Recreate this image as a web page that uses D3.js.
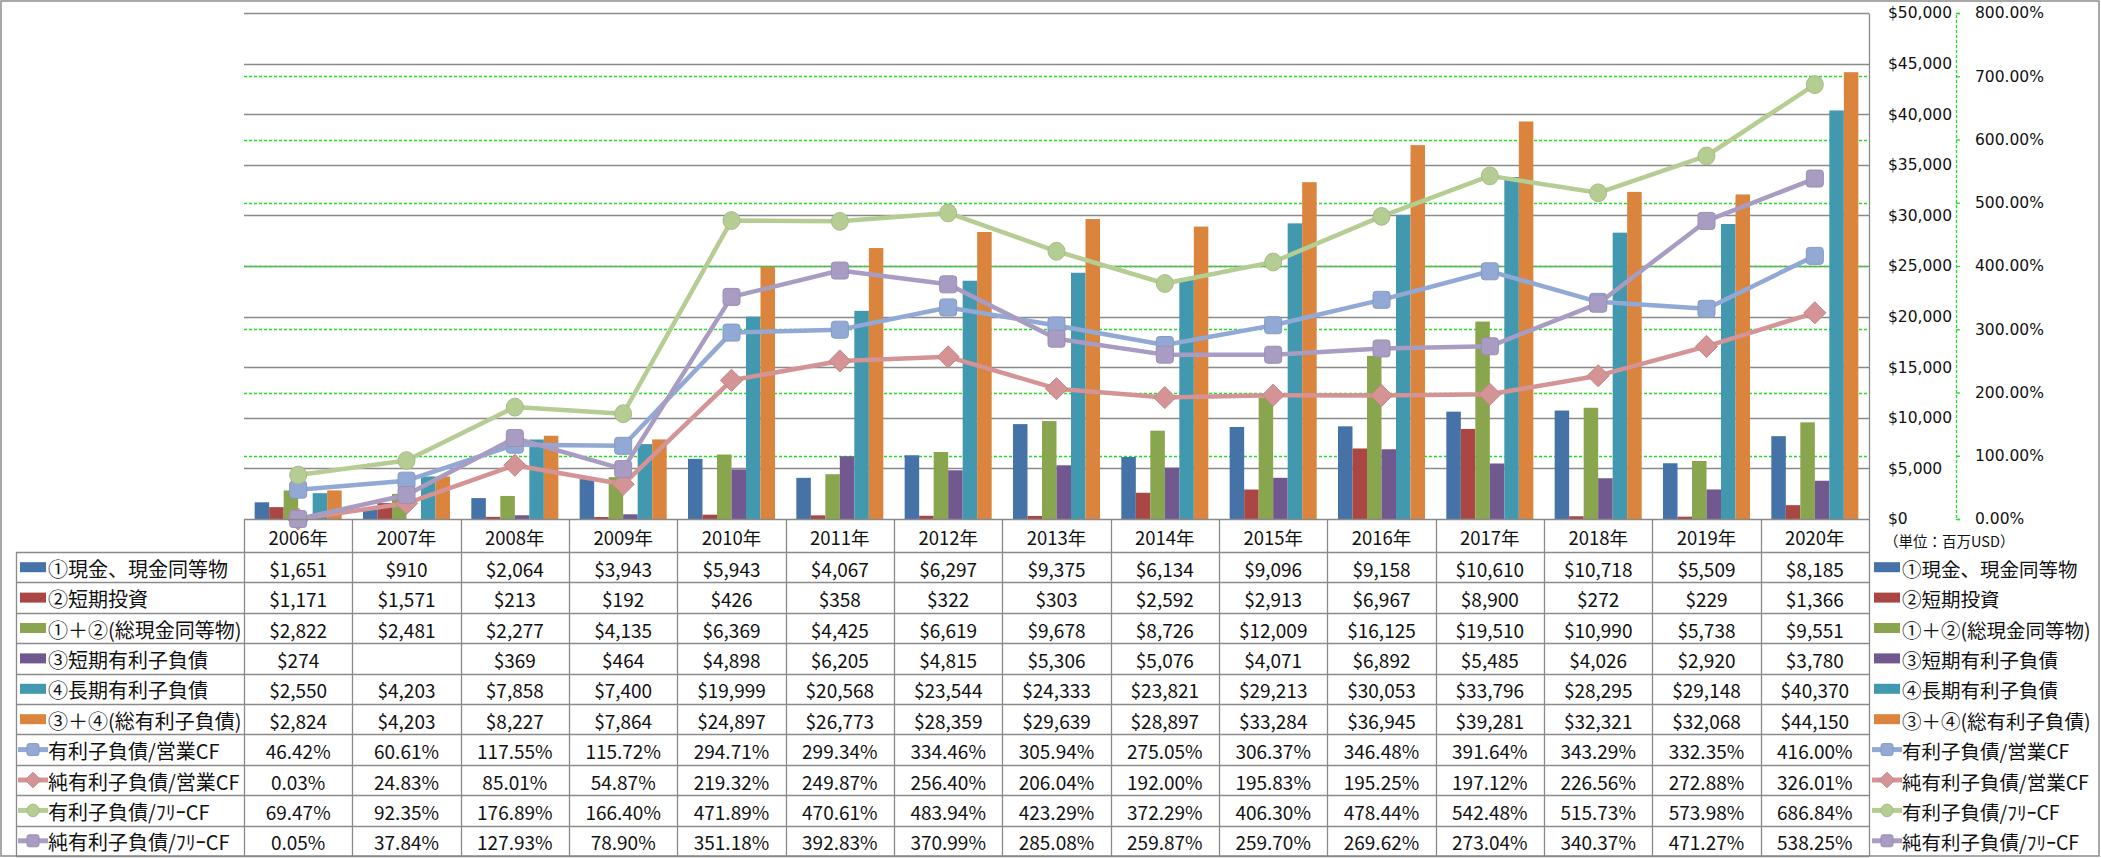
<!DOCTYPE html>
<html><head><meta charset="utf-8">
<script src="https://cdn.jsdelivr.net/npm/d3@7"></script>
<style>
html,body{margin:0;padding:0;background:#fff;}
svg{display:block;}
</style></head>
<body>
<svg id="chart" width="2101" height="858"></svg>
<script>
// ---------------- DATA ----------------
const years = ['2006年','2007年','2008年','2009年','2010年','2011年','2012年','2013年','2014年','2015年','2016年','2017年','2018年','2019年','2020年'];
const cash       = [1651,910,2064,3943,5943,4067,6297,9375,6134,9096,9158,10610,10718,5509,8185];
const stInvest   = [1171,1571,213,192,426,358,322,303,2592,2913,6967,8900,272,229,1366];
const totalCash  = [2822,2481,2277,4135,6369,4425,6619,9678,8726,12009,16125,19510,10990,5738,9551];
const stDebt     = [274,null,369,464,4898,6205,4815,5306,5076,4071,6892,5485,4026,2920,3780];
const ltDebt     = [2550,4203,7858,7400,19999,20568,23544,24333,23821,29213,30053,33796,28295,29148,40370];
const totalDebt  = [2824,4203,8227,7864,24897,26773,28359,29639,28897,33284,36945,39281,32321,32068,44150];
const debtOcf    = [46.42,60.61,117.55,115.72,294.71,299.34,334.46,305.94,275.05,306.37,346.48,391.64,343.29,332.35,416.00];
const netDebtOcf = [0.03,24.83,85.01,54.87,219.32,249.87,256.40,206.04,192.00,195.83,195.25,197.12,226.56,272.88,326.01];
const debtFcf    = [69.47,92.35,176.89,166.40,471.89,470.61,483.94,423.29,372.29,406.30,478.44,542.48,515.73,573.98,686.84];
const netDebtFcf = [0.05,37.84,127.93,78.90,351.18,392.83,370.99,285.08,259.87,259.70,269.62,273.04,340.37,471.27,538.25];
const barNames  = ['①現金、現金同等物','②短期投資','①＋②(総現金同等物)','③短期有利子負債','④長期有利子負債','③＋④(総有利子負債)'];
const lineNames = ['有利子負債/営業CF','純有利子負債/営業CF','有利子負債/ﾌﾘｰCF','純有利子負債/ﾌﾘｰCF'];
const leftTicks  = [0,5000,10000,15000,20000,25000,30000,35000,40000,45000,50000];
const rightTicks = [0,100,200,300,400,500,600,700,800];
const unitLabel = '（単位：百万USD）';

// ---------------- STYLE ----------------
const barColors  = ['#4572A7','#AA4643','#89A54E','#71588F','#4198AF','#DB843D'];
const lineColors = ['#91A9D4','#D49394','#B5CD93','#A99CC3'];
const lineMarkers = ['square','diamond','circle','square'];
const barSeries  = [cash, stInvest, totalCash, stDebt, ltDebt, totalDebt];
const lineSeries = [debtOcf, netDebtOcf, debtFcf, netDebtFcf];

const CJK = "'Noto Sans CJK JP','Noto Sans',sans-serif";
const AX = "'DejaVu Sans',sans-serif";
const GRID = '#8a8a8a';
const GREEN = '#1ee01e';

const svg = d3.select('#chart');
const X0 = 244, X1 = 1869, YT = 13, YB = 519;
const ROWH = 30.4, TBL_TOP = 552, TBL_LEFT = 16;

const x = d3.scaleBand().domain(years).range([X0, X1]).padding(0);
const xs = d3.scaleBand().domain(d3.range(6)).range([0, x.bandwidth()]).paddingInner(0).paddingOuter(0.735);
const yL = d3.scaleLinear().domain([0, 50000]).range([YB, YT]);
const yR = d3.scaleLinear().domain([0, 800]).range([YB, YT]);

// outer border
svg.append('rect').attr('x',1).attr('y',1).attr('width',2098).attr('height',855)
  .attr('fill','none').attr('stroke','#8c8c8c').attr('stroke-width',1.5);

// gray gridlines
svg.append('g').selectAll('line').data(leftTicks.filter(d=>d>0)).join('line')
  .attr('x1',X0).attr('x2',X1).attr('y1',d=>Math.round(yL(d))+0.5).attr('y2',d=>Math.round(yL(d))+0.5)
  .attr('stroke',GRID).attr('stroke-width',1.3);

// green dashed gridlines
svg.append('g').selectAll('line').data(rightTicks.filter(d=>d>0 && d<800)).join('line')
  .attr('x1',X0).attr('x2',X1).attr('y1',d=>Math.round(yR(d))+0.5).attr('y2',d=>Math.round(yR(d))+0.5)
  .attr('stroke',GREEN).attr('stroke-width',1.3).attr('stroke-dasharray','3,2');

// bars
barSeries.forEach((s,i)=>{
  svg.append('g').selectAll('rect').data(s.map((v,j)=>({v, y:years[j]})).filter(d=>d.v!=null)).join('rect')
    .attr('x',d=>x(d.y)+xs(i)).attr('width',xs.bandwidth())
    .attr('y',d=>yL(d.v)).attr('height',d=>YB-yL(d.v))
    .attr('fill',barColors[i]);
});

// marker drawing helper
function marker(g, type, cx, cy, size, color){
  if(type==='square'){
    g.append('rect').attr('x',cx-size/2).attr('y',cy-size/2).attr('width',size).attr('height',size)
      .attr('rx',size*0.18).attr('fill',color).attr('stroke',d3.color(color).darker(0.25)).attr('stroke-width',1);
  } else if(type==='circle'){
    g.append('ellipse').attr('cx',cx).attr('cy',cy).attr('rx',size/2).attr('ry',size/2*1.05)
      .attr('fill',color).attr('stroke',d3.color(color).darker(0.25)).attr('stroke-width',1);
  } else {
    const r = size*0.65;
    g.append('path').attr('d',`M${cx},${cy-r}L${cx+r},${cy}L${cx},${cy+r}L${cx-r},${cy}Z`)
      .attr('fill',color).attr('stroke',d3.color(color).darker(0.25)).attr('stroke-width',1).attr('stroke-linejoin','round');
  }
}

// lines
const cx = d => x(d) + x.bandwidth()/2;
lineSeries.forEach((s,i)=>{
  const g = svg.append('g');
  const pts = s.map((v,j)=>[cx(years[j]), yR(v)]);
  g.append('path').attr('d', d3.line()(pts)).attr('fill','none')
    .attr('stroke',lineColors[i]).attr('stroke-width',4.5).attr('stroke-linejoin','round');
  pts.forEach(p=>marker(g, lineMarkers[i], p[0], p[1], 17, lineColors[i]));
});

// left value axis (placed on right side of plot)
const axL = svg.append('g').attr('transform',`translate(${X1},0)`)
  .call(d3.axisRight(yL).tickValues(leftTicks).tickSize(0).tickPadding(19).tickFormat(d3.format('$,')));
axL.select('.domain').attr('stroke',GRID).attr('stroke-width',1.3);
axL.selectAll('text').attr('font-family',AX).attr('font-size','15.5px').attr('fill','#111');

// right percent axis
const axR = svg.append('g').attr('transform',`translate(1956,0)`)
  .call(d3.axisRight(yR).tickValues(rightTicks).tickSize(4).tickSizeOuter(4).tickPadding(15).tickFormat(d=>d3.format('.2f')(d)+'%'));
axR.select('.domain').attr('stroke',GREEN).attr('stroke-width',1.3).attr('stroke-dasharray','3,2');
axR.selectAll('.tick line').attr('stroke',GREEN).attr('stroke-width',1.3);
axR.selectAll('text').attr('font-family',AX).attr('font-size','15.5px').attr('fill','#111');

svg.append('text').attr('x',1884).attr('y',540).attr('dominant-baseline','central')
  .attr('font-family',CJK).attr('font-size','14.5px').attr('fill','#111').text(unitLabel);

// ---------------- DATA TABLE ----------------
const tg = svg.append('g');
const TBL_BOT = TBL_TOP + ROWH*10;
tg.append('line').attr('x1',X0).attr('x2',X1).attr('y1',YB+0.5).attr('y2',YB+0.5).attr('stroke',GRID).attr('stroke-width',1.3);
d3.range(11).forEach(k=>{
  const yy = Math.round(TBL_TOP + k*ROWH)+0.5;
  tg.append('line').attr('x1',TBL_LEFT).attr('x2',X1).attr('y1',yy).attr('y2',yy).attr('stroke',GRID).attr('stroke-width',1.3);
});
tg.append('line').attr('x1',TBL_LEFT+0.5).attr('x2',TBL_LEFT+0.5).attr('y1',TBL_TOP).attr('y2',TBL_BOT).attr('stroke',GRID).attr('stroke-width',1.3);
years.concat(['end']).forEach((yr,k)=>{
  const xx = Math.round(k<years.length ? x(yr) : X1)+0.5;
  tg.append('line').attr('x1',xx).attr('x2',xx).attr('y1',YB).attr('y2',TBL_BOT).attr('stroke',GRID).attr('stroke-width',1.3);
});
tg.selectAll('text.yr').data(years).join('text').attr('class','yr')
  .attr('x',d=>cx(d)).attr('y',(YB+TBL_TOP)/2+1).attr('text-anchor','middle').attr('dominant-baseline','central')
  .attr('font-family',CJK).attr('font-size','18.5px').attr('fill','#111').text(d=>d);

const allSeries = barSeries.concat(lineSeries);
const fmtD = d3.format('$,');
const fmtP = d=>d3.format('.2f')(d)+'%';
allSeries.forEach((s,i)=>{
  const yc = TBL_TOP + ROWH*i + ROWH/2;
  tg.append('g').selectAll('text').data(s.map((v,j)=>({v,y:years[j]}))).join('text')
    .attr('x',d=>cx(d.y)).attr('y',yc+1).attr('text-anchor','middle').attr('dominant-baseline','central')
    .attr('font-family',CJK).attr('font-size','19px').attr('fill','#111')
    .text(d=>d.v==null?'':(i<6?fmtD(d.v):fmtP(d.v)));
});

const names = barNames.concat(lineNames);
function legendKey(g, i, x0, yc){
  if(i<6){
    g.append('rect').attr('x',x0).attr('y',yc-5).attr('width',26).attr('height',10).attr('fill',barColors[i]);
  } else {
    const k=i-6;
    g.append('line').attr('x1',x0-2).attr('x2',x0+28).attr('y1',yc).attr('y2',yc)
      .attr('stroke',lineColors[k]).attr('stroke-width',5);
    marker(g, lineMarkers[k], x0+13, yc, 12, lineColors[k]);
  }
}
names.forEach((n,i)=>{
  const yc = TBL_TOP + ROWH*i + ROWH/2;
  legendKey(tg, i, 20, yc);
  tg.append('text').attr('x',48).attr('y',yc+1).attr('dominant-baseline','central')
    .attr('font-family',CJK).attr('font-size','20px').attr('fill','#111').text(n);
  legendKey(tg, i, 1874, yc);
  tg.append('text').attr('x',1902).attr('y',yc+1).attr('dominant-baseline','central')
    .attr('font-family',CJK).attr('font-size','19.5px').attr('fill','#111').text(n);
});
</script>
</body></html>
